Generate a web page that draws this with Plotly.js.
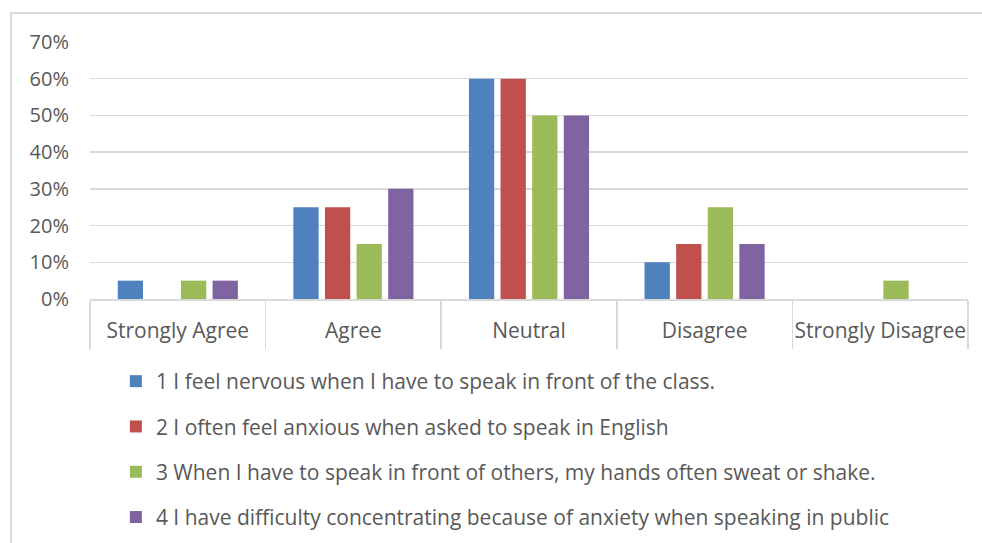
<!DOCTYPE html>
<html><head><meta charset="utf-8">
<script src="https://cdn.plot.ly/plotly-3.0.1.min.js"></script>
<style>
html,body{margin:0;padding:0;background:#fff;}
#frame{position:absolute;left:10px;top:12px;width:980px;height:540px;border-left:2px solid #d9d9d9;border-top:2px solid #d9d9d9;}
#chart{position:absolute;left:0;top:0;width:982px;height:543px;}
</style></head>
<body>
<div id="frame"></div>
<div id="chart"></div>
<script>
const categories = ["Strongly Agree", "Agree", "Neutral", "Disagree", "Strongly Disagree"];
const seriesNames = [
  "1 I feel nervous when I have to speak in front of the class.",
  "2 I often feel anxious when asked to speak in English",
  "3 When I have to speak in front of others, my hands often sweat or shake.",
  "4 I have difficulty concentrating because of anxiety when speaking in public"
];
const s1 = [0.05, 0.25, 0.60, 0.10, 0];
const s2 = [0, 0.25, 0.60, 0.15, 0];
const s3 = [0.05, 0.15, 0.50, 0.25, 0.05];
const s4 = [0.05, 0.30, 0.50, 0.15, 0];
const yTicks = [0, 0.1, 0.2, 0.3, 0.4, 0.5, 0.6, 0.7];
const colors = ["#4F81BD", "#C0504D", "#9BBB59", "#8064A2"];

const allSeries = [s1, s2, s3, s4];
const traces = allSeries.map((vals, i) => ({
  type: "bar",
  name: seriesNames[i],
  x: categories,
  y: vals,
  marker: {color: colors[i]},
  legendgroup: "g" + i,
  hoverinfo: "skip"
}));

const font = "Open Sans, Noto Sans, sans-serif";
const layout = {
  width: 982, height: 543,
  margin: {l: 90, r: 14, t: 42, b: 244, autoexpand: false},
  paper_bgcolor: "rgba(0,0,0,0)",
  plot_bgcolor: "rgba(0,0,0,0)",
  barmode: "group",
  bargap: 0.28,
  bargroupgap: 0.2,
  font: {family: font, color: "#595959", size: 20},
  xaxis: {
    type: "category",
    tickson: "boundaries",
    ticks: "outside",
    ticklen: 48,
    tickcolor: "#d9d9d9",
    tickwidth: 1.5,
    tickangle: 0,
    ticklabelstandoff: 12,
    showline: true,
    linecolor: "#d9d9d9",
    linewidth: 1.5,
    showgrid: false,
    automargin: false,
    tickfont: {family: font, size: 21, color: "#595959"}
  },
  yaxis: {
    range: [0, 0.7],
    tickvals: yTicks,
    tickformat: ".0%",
    showgrid: true,
    gridcolor: "#d9d9d9",
    gridwidth: 1.5,
    zeroline: false,
    showline: false,
    ticks: "",
    ticklabelstandoff: 20,
    automargin: false,
    tickfont: {family: font, size: 20, color: "#595959"}
  },
  showlegend: true,
  legend: {
    orientation: "v",
    xref: "container", yref: "container",
    x: 0.118, y: 1 - 361/543,
    xanchor: "left", yanchor: "top",
    font: {family: font, size: 21, color: "#595959"},
    tracegroupgap: 15,
    itemwidth: 30,
    traceorder: "grouped",
    bgcolor: "rgba(0,0,0,0)"
  }
};
Plotly.newPlot("chart", traces, layout, {staticPlot: true});
</script>
</body></html>
